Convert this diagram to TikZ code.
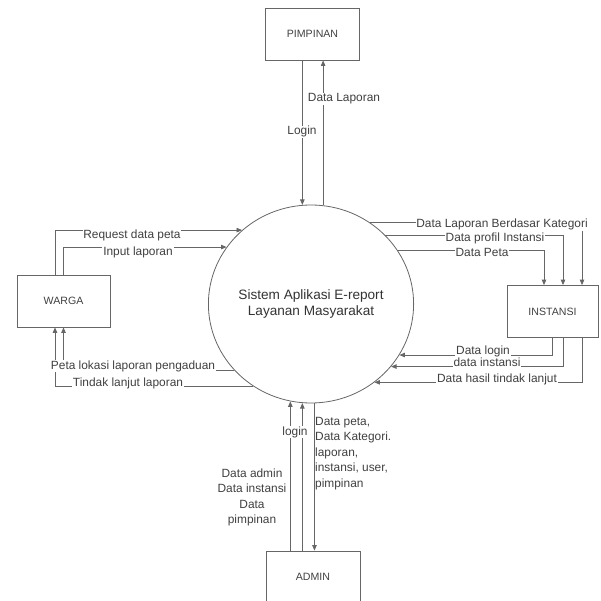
\documentclass[tikz,border=0pt]{standalone}
\usepackage{fontspec}
\setmainfont{Liberation Sans}
\usetikzlibrary{arrows.meta,shapes.geometric}

\tikzset{
  entity/.style={draw=black!60, line width=0.8pt, minimum width=94pt, minimum height=52pt, inner sep=0pt, font=\fontsize{10.6}{12}\selectfont, text=black!75},
  flow/.style={draw=black!60, line width=0.8pt, -{Triangle[length=5.5pt,width=4.5pt]}},
  lbl/.style={fill=white, inner sep=0.8pt, font=\fontsize{11.9}{14}\selectfont, text=black!75, text height=8.5pt, text depth=2.5pt},
  note/.style={inner sep=0pt, font=\fontsize{11.9}{15.5}\selectfont, text=black!75}
}

\begin{document}
\begin{tikzpicture}[x=1pt,y=1pt,yscale=-1,xscale=1]
\useasboundingbox (0,0) rectangle (601,601);

%Process
\node [ellipse, draw=black!60, line width=0.8pt, minimum width=184pt, minimum height=198pt, inner sep=0pt, align=center, text=black!80, font=\fontsize{13.6}{16}\selectfont] (sys) at (311,304) {Sistem Aplikasi E-report\\Layanan Masyarakat};

%External entities
\node [entity] (pimpinan) at (312.5,34) {PIMPINAN};
\node [entity, minimum width=93pt] (warga) at (63.5,301) {WARGA};
\node [entity, minimum width=91pt] (instansi) at (552.5,311.5) {INSTANSI};
\node [entity] (admin) at (313,577) {ADMIN};

%PIMPINAN flows
\draw [flow] (pimpinan.south -| sys.95.2) -- (sys.95.2);
\draw [flow] (sys.83) -- (pimpinan.south -| sys.83);

%WARGA flows
\draw [flow] ([xshift=-8.5pt]warga.north) |- (sys.133.7);
\draw [flow] (warga.north) |- (sys.146.4);
\draw [flow] (sys.-139.15) -| (warga.south);
\draw [flow] (sys.-125.04) -| ([xshift=-8.5pt]warga.south);

%INSTANSI flows
\draw [flow] (sys.54.96) -| ([xshift=29.5pt]instansi.north);
\draw [flow] (sys.43.9) -| ([xshift=10.5pt]instansi.north);
\draw [flow] (sys.32.9) -| ([xshift=-8.5pt]instansi.north);
\draw [flow] (instansi.south) |- (sys.-30.1);
\draw [flow] ([xshift=10.5pt]instansi.south) |- (sys.-38.6);
\draw [flow] ([xshift=29.5pt]instansi.south) |- (sys.-51.3);

%ADMIN flows
\draw [flow] (admin.north -| sys.258.9) -- (sys.258.9);
\draw [flow] (admin.north -| sys.265.4) -- (sys.265.4);
\draw [flow] (sys.-88.8) -- (admin.north -| sys.-88.8);

% Text Node
\node [lbl] (tLogin) at (302,132) {Login};
\node [lbl] (tLaporan) at (344,99) {Data Laporan};
\node [lbl] (tRequest) at (132,235) {Request data peta};
\node [lbl] (tInput) at (138,252) {Input laporan};
\node [lbl] (tPeta) at (133,366) {Peta lokasi laporan pengaduan};
\node [lbl] (tTindak) at (128,383) {Tindak lanjut laporan};
\node [lbl] (tKategori) at (502,225) {Data Laporan Berdasar Kategori};
\node [lbl] (tProfil) at (495,238) {Data profil Instansi};
\node [lbl] (tDataPeta) at (482,253) {Data Peta};
\node [lbl] (tDataLogin) at (483,351) {Data login};
\node [lbl] (tDataInst) at (487,363) {data instansi};
\node [lbl] (tHasil) at (497,379) {Data hasil tindak lanjut};
\node [lbl] (tAdminLogin) at (295,432) {login};
\node [note, align=center] (tAdminData) at (252,497.5) {Data admin\\Data instansi\\Data\\pimpinan};
\node [note, align=left, anchor=west] (tAdminOut) at (315,453.5) {Data peta,\\Data Kategori.\\laporan,\\instansi, user,\\pimpinan};

\end{tikzpicture}
\end{document}
